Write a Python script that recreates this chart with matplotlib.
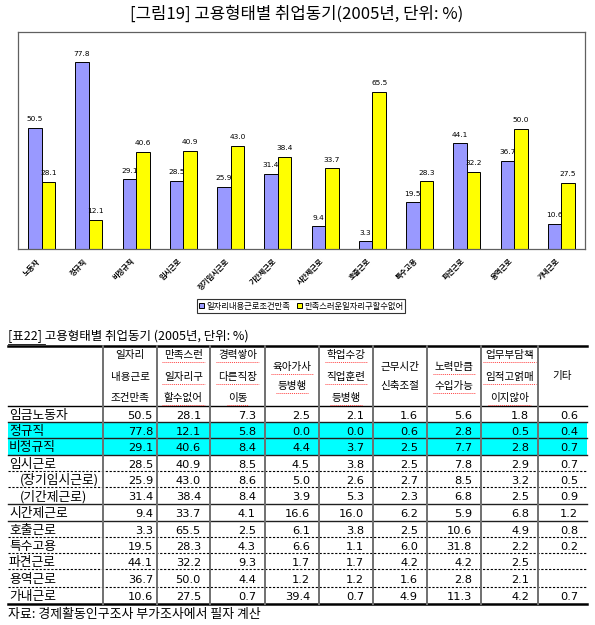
import matplotlib
matplotlib.use("Agg")
import matplotlib.pyplot as plt
import numpy as np

plt.rcParams['font.family'] = ['Noto Sans CJK KR', 'DejaVu Sans']

# ---------------- data ----------------
chart_categories = ["노동자", "정규직", "비정규직", "임시근로", "장기임시근로", "기간제근로",
                    "시간제근로", "호출근로", "특수고용", "파견근로", "용역근로", "가내근로"]
series1_name = "일자리내용근로조건만족"
series2_name = "만족스러운일자리구할수없어"
series1 = [50.5, 77.8, 29.1, 28.5, 25.9, 31.4, 9.4, 3.3, 19.5, 44.1, 36.7, 10.6]
series2 = [28.1, 12.1, 40.6, 40.9, 43.0, 38.4, 33.7, 65.5, 28.3, 32.2, 50.0, 27.5]

chart_title = "[그림19] 고용형태별 취업동기(2005년, 단위: %)"
table_title = "[표22] 고용형태별 취업동기 (2005년, 단위: %)"
footnote = "자료: 경제활동인구조사 부가조사에서 필자 계산"

header_labels = [
    ["일자리", "내용근로", "조건만족"],
    ["만족스런", "일자리구", "할수없어"],
    ["경력쌓아", "다른직장", "이동"],
    ["육아가사", "등병행"],
    ["학업수강", "직업훈련", "등병행"],
    ["근무시간", "신축조절"],
    ["노력만큼", "수입가능"],
    ["업무부담책", "임적고얽매", "이지않아"],
    ["기타"],
]
row_labels = ["임금노동자", "정규직", "비정규직", "임시근로", "(장기임시근로)", "(기간제근로)",
              "시간제근로", "호출근로", "특수고용", "파견근로", "용역근로", "가내근로"]
table_values = [
    ["50.5", "28.1", "7.3", "2.5", "2.1", "1.6", "5.6", "1.8", "0.6"],
    ["77.8", "12.1", "5.8", "0.0", "0.0", "0.6", "2.8", "0.5", "0.4"],
    ["29.1", "40.6", "8.4", "4.4", "3.7", "2.5", "7.7", "2.8", "0.7"],
    ["28.5", "40.9", "8.5", "4.5", "3.8", "2.5", "7.8", "2.9", "0.7"],
    ["25.9", "43.0", "8.6", "5.0", "2.6", "2.7", "8.5", "3.2", "0.5"],
    ["31.4", "38.4", "8.4", "3.9", "5.3", "2.3", "6.8", "2.5", "0.9"],
    ["9.4", "33.7", "4.1", "16.6", "16.0", "6.2", "5.9", "6.8", "1.2"],
    ["3.3", "65.5", "2.5", "6.1", "3.8", "2.5", "10.6", "4.9", "0.8"],
    ["19.5", "28.3", "4.3", "6.6", "1.1", "6.0", "31.8", "2.2", "0.2"],
    ["44.1", "32.2", "9.3", "1.7", "1.7", "4.2", "4.2", "2.5", ""],
    ["36.7", "50.0", "4.4", "1.2", "1.2", "1.6", "2.8", "2.1", ""],
    ["10.6", "27.5", "0.7", "39.4", "0.7", "4.9", "11.3", "4.2", "0.7"],
]
highlight_rows = [1, 2]

W, H = 595, 625
fig = plt.figure(figsize=(W / 100, H / 100), dpi=100)
PX = 100 / 72.0  # pixels per point


def ktext(ax_, x_, yc, s, fs, **kw):
    """Place Korean text so its glyph centre sits at pixel row yc."""
    base = yc + 0.34 * fs * PX
    return ax_.text(x_, base, s, va='baseline', fontsize=fs, **kw)


# ---------------- overlay axes in pixel coordinates ----------------
tax = fig.add_axes([0, 0, 1, 1], zorder=0)
tax.set_xlim(0, W)
tax.set_ylim(H, 0)
tax.axis('off')

ktext(tax, 297, 13, chart_title, 12, ha='center')

# ---------------- bar chart ----------------
L, R, T, B = 18, 585, 32, 249
ax = fig.add_axes([L / W, 1 - B / H, (R - L) / W, (B - T) / H], zorder=2)
x = np.arange(len(chart_categories))
bw = 0.286
b1 = ax.bar(x - bw / 2, series1, bw, color='#9999FF', edgecolor='black', linewidth=0.7,
            label=series1_name)
b2 = ax.bar(x + bw / 2, series2, bw, color='#FFFF00', edgecolor='black', linewidth=0.7,
            label=series2_name)
for bars, vals in ((b1, series1), (b2, series2)):
    for rect, v in zip(bars, vals):
        ax.annotate(f"{v:.1f}", xy=(rect.get_x() + rect.get_width() / 2, v),
                    xytext=(0, 4), textcoords='offset points', ha='center', va='bottom',
                    fontsize=5.3, family='DejaVu Sans')
ax.set_xlim(-0.5, len(x) - 0.5)
ax.set_ylim(0, 90.4)
ax.set_xticks([])
ax.set_yticks([])
for s in ax.spines.values():
    s.set_color('#606060')
    s.set_linewidth(0.9)
for i, lab in enumerate(chart_categories):
    ax.annotate(lab, xy=(i, 0), xycoords=('data', 'axes fraction'), xytext=(-4, -6),
                textcoords='offset points', rotation=45, ha='right', va='top',
                rotation_mode='anchor', fontsize=5.3, fontweight='bold')

leg = fig.legend(handles=[b1, b2], loc='center', bbox_to_anchor=(301 / W, 1 - 306 / H),
                 ncol=2, fontsize=6, frameon=True, fancybox=False, handlelength=0.6,
                 handleheight=0.6, handletextpad=0.3, columnspacing=0.8, borderpad=0.25,
                 borderaxespad=0)
leg.get_frame().set_edgecolor('black')
leg.get_frame().set_linewidth(0.8)

# ---------------- table ----------------
ktext(tax, 8, 336, table_title, 9, ha='left')
tax.plot([8, 45], [344, 344], color='black', lw=0.6)

col_edges = [8, 103, 157, 210, 265, 319, 373, 427, 481, 538, 587]
row_edges = [406, 422, 438, 455, 471, 487, 504, 521, 537, 553, 569, 587, 604]
line_styles = ['solid', 'solid', 'solid', 'dashed', 'dashed', 'solid', 'solid',
               'dashed', 'dashed', 'dashed', 'dashed']
top_y = 346

for r in highlight_rows:
    tax.fill_between([col_edges[0], col_edges[-1]], row_edges[r], row_edges[r + 1],
                     color='#00FFFF', lw=0, zorder=0)

tax.plot([col_edges[0], col_edges[-1]], [top_y, top_y], color='black', lw=1.8)
tax.plot([col_edges[0], col_edges[-1]], [row_edges[-1], row_edges[-1]], color='black', lw=1.8)
tax.plot([col_edges[0], col_edges[-1]], [row_edges[0], row_edges[0]], color='black', lw=1.0)
for k, ls in enumerate(line_styles):
    y = row_edges[k + 1]
    if ls == 'solid':
        tax.plot([col_edges[0], col_edges[-1]], [y, y], color='#202020', lw=1.0)
    else:
        tax.plot([col_edges[0], col_edges[-1]], [y, y], color='black', lw=0.8,
                 linestyle=(0, (2, 1.5)))
for cx in col_edges[1:-1]:
    tax.plot([cx, cx], [top_y, row_edges[-1]], color='#707070', lw=1.4)

line_y = {1: [375], 2: [366, 385], 3: [354, 376, 397]}
red_cols = {1, 2, 3, 4, 6, 7}
hfs = 7.6
for c, lines in enumerate(header_labels):
    cxm = (col_edges[c + 1] + col_edges[c + 2]) / 2
    ys = line_y[len(lines)]
    for t, yy in zip(lines, ys):
        ktext(tax, cxm, yy, t, hfs, ha='center')
        if c in red_cols:
            w = len(t) * hfs * PX
            tax.plot([cxm - w / 2, cxm + w / 2], [yy + 7.5, yy + 7.5], color='#FF4040',
                     lw=0.7, linestyle=(0, (1, 1)))

for r, lab in enumerate(row_labels):
    yc = (row_edges[r] + row_edges[r + 1]) / 2 + 0.5
    xl = 20 if lab.startswith('(') else 9
    ktext(tax, xl, yc, lab, 9.2, ha='left')
    for c, v in enumerate(table_values[r]):
        pad = 4 if c == 0 else 9
        tax.text(col_edges[c + 2] - pad, yc + 0.36 * 8.2 * PX, v, ha='right', va='baseline',
                 fontsize=8.2, family='DejaVu Sans')

ktext(tax, 8, 614, footnote, 9.3, ha='left')

fig.savefig("out.png", dpi=100)
